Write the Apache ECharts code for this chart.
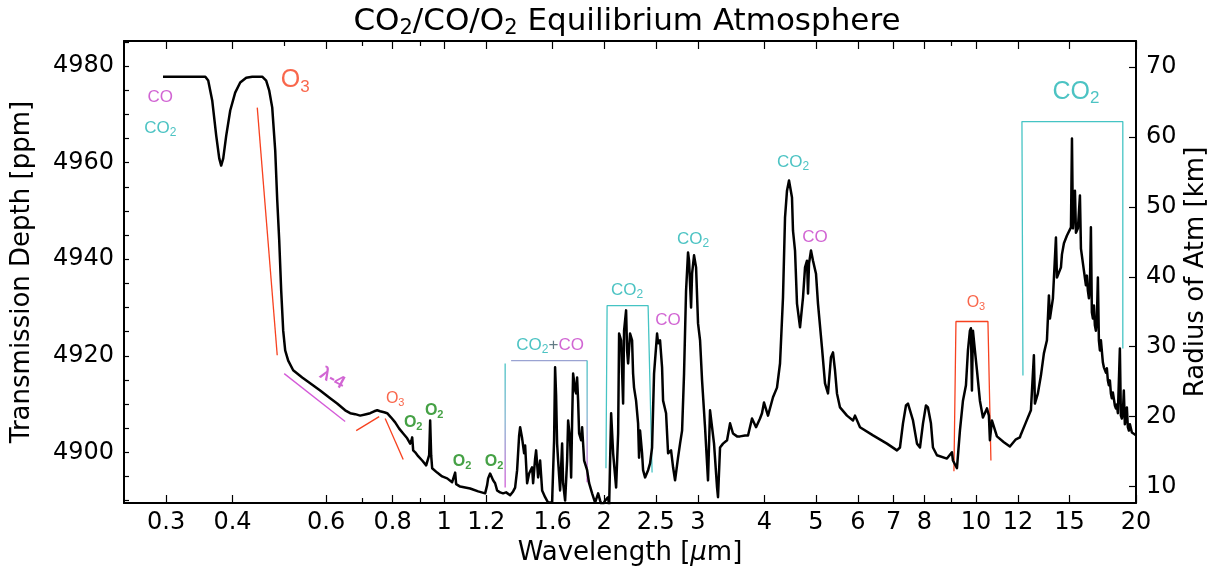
<!DOCTYPE html>
<html>
<head>
<meta charset="utf-8">
<script src="https://cdn.jsdelivr.net/npm/echarts@6/dist/echarts.min.js"></script>
<style>
  html, body { margin: 0; padding: 0; background: #ffffff; }
  #chart { width: 1216px; height: 577px; }
</style>
</head>
<body>
<div id="chart"></div>
<script>
// Transmission spectrum of a CO2/CO/O2 equilibrium atmosphere.
const wavelengthUm = [
  0.296, 0.3555, 0.360, 0.3663, 0.3727, 0.3776, 0.3808, 0.3842, 0.3892, 0.396,
  0.4046, 0.4135, 0.4244, 0.4356, 0.4548, 0.4627, 0.4689, 0.475, 0.4812, 0.4854,
  0.4896, 0.4938, 0.4981, 0.5024, 0.509, 0.5201, 0.5408, 0.5598, 0.5846, 0.6104,
  0.6292, 0.6514, 0.6657, 0.6803, 0.6952, 0.7134, 0.7259, 0.7385, 0.7482, 0.7579,
  0.7711, 0.7813, 0.7949, 0.8089, 0.8231, 0.8375, 0.8521, 0.8632, 0.867, 0.8708,
  0.8745, 0.8822, 0.8935, 0.9092, 0.9251, 0.9331, 0.9371, 0.9412, 0.9453, 0.9494,
  0.9701, 0.9913, 1.0131, 1.0352, 1.0442, 1.0488, 1.0533, 1.0717, 1.1191, 1.1586,
  1.1942, 1.2045, 1.2097, 1.2202, 1.2308, 1.2361, 1.2469, 1.2577, 1.2741, 1.2907,
  1.3077, 1.3306, 1.348, 1.3597, 1.3715, 1.3836, 1.3896, 1.4016, 1.4138, 1.42,
  1.4322, 1.4447, 1.4635, 1.4699, 1.4827, 1.4891, 1.5021, 1.5152, 1.5284, 1.5483,
  1.5685, 1.5959, 1.6097, 1.6167, 1.6237, 1.6308, 1.6379, 1.6522, 1.6666, 1.6738,
  1.6884, 1.6957, 1.7031, 1.7105, 1.7254, 1.7329, 1.7405, 1.748, 1.7633, 1.7709,
  1.7783, 1.7861, 1.7939, 1.8095, 1.8174, 1.8333, 1.8572, 1.8733, 1.8977, 1.9224,
  1.9478, 1.9648, 1.9815, 2.0075, 2.034, 2.0429, 2.0607, 2.0786, 2.1057, 2.1241,
  2.133, 2.1515, 2.1704, 2.1794, 2.1985, 2.2081, 2.2178, 2.2368, 2.2563, 2.2662,
  2.2756, 2.2956, 2.3158, 2.3254, 2.3356, 2.3561, 2.3665, 2.3868, 2.4183, 2.439,
  2.4604, 2.4815, 2.5143, 2.5253, 2.5468, 2.5692, 2.5805, 2.614, 2.637, 2.6712,
  2.6947, 2.7178, 2.7531, 2.7773, 2.8017, 2.8257, 2.8505, 2.8749, 2.8876, 2.913,
  2.9257, 2.9508, 2.9767, 3.0022, 3.0286, 3.0549, 3.0945, 3.1347, 3.1623, 3.19,
  3.2174, 3.26, 3.2734, 3.3022, 3.345, 3.4041, 3.4483, 3.4931, 3.5547, 3.6009,
  3.6797, 3.7276, 3.7927, 3.8596, 3.9264, 3.9601, 3.9949, 4.0644, 4.1534, 4.2258,
  4.2815, 4.3371, 4.3752, 4.4128, 4.4515, 4.471, 4.5093, 4.529, 4.5689, 4.6081,
  4.669, 4.7298, 4.7714, 4.8122, 4.8334, 4.8546, 4.8962, 4.9392, 5.0033, 5.0466,
  5.1346, 5.2024, 5.2701, 5.3385, 5.3854, 5.4325, 5.479, 5.5514, 5.7219, 5.8727,
  5.9243, 5.9489, 6.0534, 6.405, 6.8033, 7.1046, 7.1969, 7.2919, 7.3867, 7.4517,
  7.5156, 7.6151, 7.7478, 7.8483, 7.9521, 8.0538, 8.1245, 8.23, 8.3023, 8.447,
  8.8209, 9.014, 9.0536, 9.2113, 9.3311, 9.4543, 9.5775, 9.6605, 9.7432, 9.7859,
  9.8288, 9.8719, 9.9563, 10.044, 10.174, 10.308, 10.489, 10.578, 10.624, 10.717,
  10.952, 11.287, 11.585, 11.89, 12.098, 12.15, 12.416, 12.688, 12.853, 12.91,
  13.078, 13.25, 13.422, 13.6, 13.717, 13.778, 13.957, 14.141, 14.203, 14.451,
  14.514, 14.639, 14.832, 15.091, 15.157, 15.22, 15.354, 15.421, 15.553, 15.689,
  15.758, 15.959, 16.101, 16.17, 16.238, 16.312, 16.382, 16.452, 16.52, 16.596,
  16.669, 16.738, 16.812, 16.884, 16.957, 17.031, 17.106, 17.181, 17.329, 17.403,
  17.48, 17.557, 17.63, 17.706, 17.783, 17.861, 17.94, 18.014, 18.093, 18.253,
  18.333, 18.408, 18.491, 18.57, 18.651, 18.733, 18.812, 18.895, 18.973, 19.057,
  19.145, 19.224, 19.307, 19.395, 19.48, 19.647, 19.903, 20.0
];
const depthPpm = [
  4977.8, 4977.8, 4977.0, 4972.9, 4965.6, 4960.9, 4959.4, 4960.9, 4965.6, 4970.8,
  4974.5, 4976.6, 4977.6, 4977.8, 4977.8, 4977.0, 4974.9, 4971.4, 4962.5, 4952.2,
  4943.9, 4933.5, 4925.2, 4921.1, 4919.0, 4917.0, 4915.5, 4914.3, 4912.8, 4911.2,
  4910.1, 4908.7, 4908.1, 4907.9, 4907.6, 4907.9, 4908.1, 4908.5, 4908.7, 4908.5,
  4908.3, 4908.1, 4907.2, 4906.2, 4904.9, 4903.9, 4902.9, 4901.8, 4902.3, 4903.1,
  4900.4, 4900.0, 4899.2, 4898.3, 4897.3, 4896.9, 4899.4, 4906.6, 4899.4, 4896.7,
  4895.8, 4895.0, 4894.6, 4893.8, 4894.2, 4895.8, 4893.4, 4892.9, 4892.5, 4891.9,
  4891.5, 4893.2, 4894.6, 4895.6, 4895.6, 4894.2, 4893.6, 4892.1, 4891.7, 4891.5,
  4891.7, 4891.1, 4891.9, 4892.7, 4896.3, 4903.5, 4905.2, 4902.9, 4899.8, 4901.4,
  4893.6, 4895.6, 4896.9, 4893.6, 4898.7, 4900.4, 4894.8, 4898.3, 4892.1, 4890.7,
  4889.6, 4889.6, 4902.5, 4917.6, 4911.8, 4901.8, 4898.3, 4892.1, 4901.8, 4893.6,
  4890.0, 4889.6, 4898.3, 4906.6, 4902.5, 4894.8, 4906.6, 4916.3, 4912.8, 4912.2,
  4915.5, 4910.7, 4903.9, 4902.5, 4905.2, 4898.3, 4896.3, 4893.6, 4891.5, 4889.6,
  4891.5, 4890.0, 4888.8, 4890.0, 4890.7, 4888.8, 4908.1, 4899.8, 4892.7, 4903.9,
  4924.6, 4923.2, 4910.1, 4925.2, 4929.4, 4921.1, 4918.4, 4924.6, 4923.2, 4916.3,
  4913.4, 4910.7, 4906.0, 4898.9, 4904.5, 4899.8, 4896.3, 4894.8, 4896.3, 4897.7,
  4901.0, 4916.3, 4924.6, 4922.6, 4923.2, 4917.6, 4910.7, 4908.1, 4899.8, 4900.4,
  4896.9, 4894.2, 4898.9, 4901.8, 4904.5, 4916.3, 4933.5, 4941.4, 4939.7, 4930.0,
  4937.0, 4940.8, 4938.3, 4926.7, 4923.2, 4914.9, 4905.2, 4894.2, 4908.7, 4905.2,
  4901.8, 4892.7, 4890.7, 4901.0, 4901.8, 4902.5, 4906.0, 4903.9, 4903.3, 4903.3,
  4903.5, 4903.5, 4907.0, 4905.2, 4907.0, 4908.1, 4910.3, 4907.6, 4911.4, 4913.4,
  4918.4, 4932.1, 4948.6, 4954.2, 4956.3, 4955.1, 4952.8, 4945.9, 4941.8, 4930.8,
  4925.9, 4932.1, 4938.3, 4939.7, 4932.9, 4939.1, 4941.8, 4939.7, 4937.0, 4930.8,
  4921.7, 4914.3, 4912.2, 4919.7, 4920.7, 4917.0, 4912.2, 4909.3, 4907.6, 4906.6,
  4907.6, 4907.2, 4905.2, 4903.5, 4901.8, 4900.4, 4901.0, 4906.0, 4909.7, 4910.1,
  4909.7, 4906.6, 4901.8, 4901.0, 4906.0, 4909.7, 4909.3, 4906.0, 4901.0, 4899.4,
  4898.7, 4900.0, 4898.3, 4896.7, 4904.5, 4910.7, 4913.9, 4921.1, 4925.2, 4925.7,
  4912.8, 4925.2, 4921.1, 4917.0, 4910.7, 4907.2, 4909.1, 4907.6, 4902.5, 4906.6,
  4903.3, 4902.1, 4901.2, 4902.7, 4903.1, 4903.7, 4906.2, 4908.7, 4920.1, 4910.1,
  4912.2, 4915.9, 4920.5, 4923.2, 4932.5, 4927.7, 4931.9, 4944.5, 4936.2, 4938.3,
  4941.0, 4943.3, 4944.9, 4946.6, 4965.0, 4946.4, 4954.2, 4945.5, 4946.4, 4953.2,
  4942.2, 4937.7, 4934.6, 4936.6, 4933.5, 4931.9, 4934.6, 4946.6, 4929.0, 4927.7,
  4930.4, 4926.3, 4925.2, 4927.7, 4936.2, 4923.2, 4921.1, 4923.2, 4918.6, 4917.6,
  4918.0, 4916.5, 4917.4, 4914.9, 4913.9, 4914.9, 4912.2, 4911.2, 4912.4, 4909.7,
  4909.1, 4909.9, 4908.1, 4907.9, 4921.5, 4907.6, 4907.0, 4908.3, 4912.8, 4905.8,
  4907.0, 4909.3, 4905.2, 4904.5, 4905.8, 4904.1, 4903.7, 4903.5
];

// Axis ticks
const wavelengthTicks = [0.3, 0.4, 0.6, 0.8, 1, 1.2, 1.6, 2, 2.5, 3, 4, 5, 6, 7, 8, 10, 12, 15, 20];
const wavelengthMinorBottom = [0.7, 0.9, 9];
const wavelengthMinorTop = [0.5, 0.7, 0.9, 9];
const depthTicks = [4900, 4920, 4940, 4960, 4980];
const depthMinorTicks = [4890, 4895, 4900, 4905, 4910, 4915, 4920, 4925, 4930, 4935, 4940,
                         4945, 4950, 4955, 4960, 4965, 4970, 4975, 4980, 4985];
const radiusTicks = [10, 20, 30, 40, 50, 60, 70];

// Band brackets and guide lines, in [wavelength um, depth ppm]
const o3HugginsGuide = [[0.4452, 4971.4], [0.4854, 4920.1]];
const rayleighGuide = [[0.5003, 4916.3], [0.6514, 4906.4]];
const o3ChappuisGuideA = [[0.6833, 4904.5], [0.7547, 4907.4]];
const o3ChappuisGuideB = [[0.7747, 4907.0], [0.8375, 4898.5]];
const co2coBandLeft = [[1.3023, 4918.4], [1.3023, 4892.7]];
const co2coBandTop = [[1.3363, 4919.0], [1.8572, 4919.0]];
const co2coBandRight = [[1.8572, 4919.0], [1.8572, 4893.8]];
const co2Band2um = [[2.015, 4896.7], [2.025, 4930.4], [2.4183, 4930.4], [2.4604, 4895.8]];
const o3Band10um = [[9.092, 4896.1], [9.172, 4927.1], [10.534, 4927.1], [10.671, 4898.3]];
const co2Band15um = [[12.258, 4915.9], [12.205, 4968.5], [18.89, 4968.5], [18.89, 4921.5]];

const TEAL = '#1fb4b4';
const TEAL_LINE = '#45c4c4';
const MAGENTA = '#c53ec8';
const RED = '#f7411f';
const GREEN = '#178a17';
const AXIS_FONT = 'DejaVu Sans';
const NOTE_FONT = 'Liberation Sans';

// Molecule labels: parts are [text, color, isSubscript]
const bandLabels = [
  { parts: [['CO', MAGENTA]], at: [0.2925, 4973.5], size: 17 },
  { parts: [['CO', TEAL], ['2', TEAL, true]], at: [0.2925, 4967.1], size: 17 },
  { parts: [['O', RED], ['3', RED, true]], at: [0.5246, 4977.0], size: 25 },
  { parts: [['λ-4', MAGENTA]], at: [0.616, 4915.3], size: 18, bold: true, rotate: -28 },
  { parts: [['O', RED], ['3', RED, true]], at: [0.8089, 4911.2], size: 16 },
  { parts: [['O', GREEN], ['2', GREEN, true]], at: [0.8745, 4906.2], size: 16, bold: true },
  { parts: [['O', GREEN], ['2', GREEN, true]], at: [0.9577, 4908.7], size: 16, bold: true },
  { parts: [['O', GREEN], ['2', GREEN, true]], at: [1.0809, 4898.1], size: 16, bold: true },
  { parts: [['O', GREEN], ['2', GREEN, true]], at: [1.2415, 4898.1], size: 16, bold: true },
  { parts: [['CO', TEAL], ['2', TEAL, true], ['+', '#3c5a66'], ['CO', MAGENTA]], at: [1.5821, 4922.1], size: 17 },
  { parts: [['CO', TEAL], ['2', TEAL, true]], at: [2.2081, 4933.5], size: 17 },
  { parts: [['CO', MAGENTA]], at: [2.637, 4927.3], size: 17 },
  { parts: [['CO', TEAL], ['2', TEAL, true]], at: [2.9376, 4944.1], size: 17 },
  { parts: [['CO', TEAL], ['2', TEAL, true]], at: [4.529, 4960.0], size: 17 },
  { parts: [['CO', MAGENTA]], at: [4.982, 4944.5], size: 17 },
  { parts: [['O', RED], ['3', RED, true]], at: [10.0, 4931.0], size: 16 },
  { parts: [['CO', TEAL], ['2', TEAL, true]], at: [15.421, 4974.7], size: 25 }
];

function richLabel(item) {
  const rich = {};
  let text = '';
  item.parts.forEach(function (p, i) {
    const key = 'p' + i;
    const sub = !!p[2];
    rich[key] = {
      color: p[1],
      fontFamily: NOTE_FONT,
      fontWeight: item.bold ? 'bold' : 'normal',
      fontSize: sub ? Math.round(item.size * 0.68) : item.size,
      padding: sub ? [Math.round(item.size * 0.55), 0, 0, 0] : [0, 0, 0, 0]
    };
    text += '{' + key + '|' + p[0] + '}';
  });
  return {
    show: true,
    position: 'inside',
    align: 'center',
    verticalAlign: 'middle',
    formatter: text,
    rich: rich,
    rotate: item.rotate || 0
  };
}

const spectrum = wavelengthUm.map(function (w, i) { return [w, depthPpm[i]]; });

function guide(data, color, width) {
  return {
    type: 'line', xAxisIndex: 0, yAxisIndex: 0, data: data,
    symbol: 'none', silent: true, z: 3,
    lineStyle: { color: color, width: width || 1.3 }
  };
}
const tealToMagenta = {
  type: 'linear', x: 0, y: 0, x2: 0, y2: 1,
  colorStops: [{ offset: 0, color: TEAL_LINE }, { offset: 0.45, color: '#7fb3cf' }, { offset: 1, color: '#d25ad6' }]
};

function fmtWavelength(v) {
  return String(Math.round(v * 100) / 100);
}
function fmtPlain(v) {
  return String(Math.round(v));
}

const frame = { show: true, onZero: false, lineStyle: { color: '#000', width: 2 } };
const tickLine = { color: '#000', width: 1.2 };
const axisNameStyle = { fontFamily: AXIS_FONT, fontSize: 26, color: '#000' };
const logX = { type: 'log', logBase: 10, min: 0.25, max: 20, splitLine: { show: false }, minorTick: { show: false } };

const chart = echarts.init(document.getElementById('chart'), null, { renderer: 'canvas' });

chart.setOption({
  animation: false,
  backgroundColor: '#ffffff',
  title: {
    text: '{n|CO}{s|2}{n|/CO/O}{s|2}{n| Equilibrium Atmosphere}',
    left: 622,
    top: 0,
    textAlign: 'center',
    textStyle: {
      fontFamily: AXIS_FONT, fontSize: 31, color: '#000', fontWeight: 'normal',
      rich: {
        n: { fontFamily: AXIS_FONT, fontSize: 31, color: '#000' },
        s: { fontFamily: AXIS_FONT, fontSize: 21, color: '#000', padding: [13, 0, 0, 0] }
      }
    }
  },
  grid: [
    { left: 124, right: 80, top: 41, bottom: 74, containLabel: false, outerBoundsMode: 'none' },
    { left: 124, right: 80, top: 41, bottom: 74, containLabel: false, outerBoundsMode: 'none' }
  ],
  xAxis: [
    Object.assign({}, logX, {
      gridIndex: 0, position: 'bottom',
      axisLine: frame,
      axisTick: { show: true, inside: true, length: 8, customValues: wavelengthTicks, lineStyle: tickLine },
      axisLabel: {
        show: true, customValues: wavelengthTicks, formatter: fmtWavelength,
        fontFamily: AXIS_FONT, fontSize: 24, color: '#000', margin: 8
      },
      name: '{a|Wavelength [}{i|μ}{a|m]}',
      nameLocation: 'middle', nameGap: 37, nameMoveOverlap: false,
      nameTextStyle: Object.assign({}, axisNameStyle, {
        rich: {
          a: axisNameStyle,
          i: Object.assign({}, axisNameStyle, { fontStyle: 'italic' })
        }
      })
    }),
    Object.assign({}, logX, {
      gridIndex: 0, position: 'top',
      axisLine: frame,
      axisTick: { show: true, inside: true, length: 8, customValues: wavelengthTicks, lineStyle: tickLine },
      axisLabel: { show: false }
    }),
    Object.assign({}, logX, {
      gridIndex: 1, position: 'bottom',
      axisLine: { show: false },
      axisTick: { show: true, inside: true, length: 5, customValues: wavelengthMinorBottom, lineStyle: tickLine },
      axisLabel: { show: false }
    }),
    Object.assign({}, logX, {
      gridIndex: 1, position: 'top',
      axisLine: { show: false },
      axisTick: { show: true, inside: true, length: 5, customValues: wavelengthMinorTop, lineStyle: tickLine },
      axisLabel: { show: false }
    })
  ],
  yAxis: [
    {
      type: 'value', gridIndex: 0, position: 'left', min: 4889.5, max: 4985.2,
      axisLine: frame,
      axisTick: { show: true, inside: true, length: 5, customValues: depthMinorTicks, lineStyle: tickLine },
      axisLabel: {
        show: true, customValues: depthTicks, formatter: fmtPlain,
        fontFamily: AXIS_FONT, fontSize: 24, color: '#000', margin: 10
      },
      splitLine: { show: false },
      name: 'Transmission Depth [ppm]',
      nameLocation: 'middle', nameGap: 89, nameRotate: 90, nameMoveOverlap: false,
      nameTextStyle: axisNameStyle
    },
    {
      type: 'value', gridIndex: 0, position: 'right', min: 7.66, max: 73.7,
      axisLine: frame,
      axisTick: { show: true, inside: true, length: 7, customValues: radiusTicks, lineStyle: tickLine },
      axisLabel: {
        show: true, customValues: radiusTicks, formatter: fmtPlain,
        fontFamily: AXIS_FONT, fontSize: 24, color: '#000', margin: 10
      },
      splitLine: { show: false },
      name: 'Radius of Atm [km]',
      nameLocation: 'middle', nameGap: 47, nameRotate: 90, nameMoveOverlap: false,
      nameTextStyle: axisNameStyle
    },
    { type: 'value', gridIndex: 1, min: 0, max: 1, show: false }
  ],
  series: [
    guide(o3HugginsGuide, RED),
    guide(rayleighGuide, '#d45ad8'),
    guide(o3ChappuisGuideA, RED),
    guide(o3ChappuisGuideB, RED),
    guide(co2coBandLeft, tealToMagenta),
    guide(co2coBandTop, '#9aa3d2'),
    guide(co2coBandRight, tealToMagenta),
    guide(co2Band2um, TEAL_LINE),
    guide(o3Band10um, RED),
    guide(co2Band15um, TEAL_LINE),
    {
      name: 'Transmission depth',
      type: 'line', xAxisIndex: 0, yAxisIndex: 0,
      data: spectrum, symbol: 'none', clip: true, z: 5,
      lineStyle: { color: '#000', width: 2.5, join: 'round' }
    },
    {
      type: 'scatter', xAxisIndex: 0, yAxisIndex: 0, symbolSize: 0, silent: true, z: 6,
      data: bandLabels.map(function (b) { return { value: b.at, label: richLabel(b) }; }),
      label: { show: true }
    }
  ]
});
</script>
</body>
</html>
